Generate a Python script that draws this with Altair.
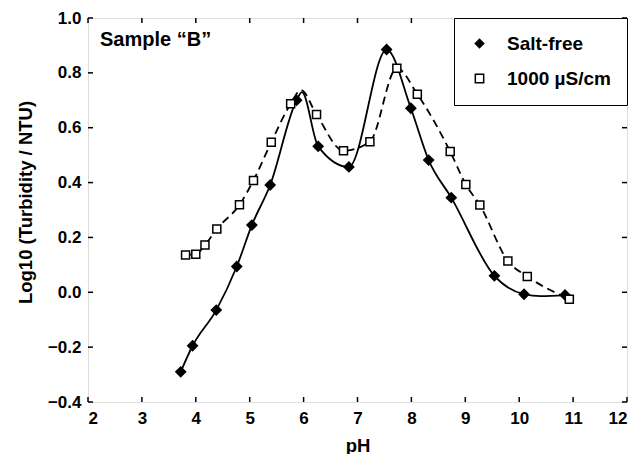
import altair as alt
import pandas as pd

# ---- data ----
series_names = ["Salt-free", "1000 µS/cm"]

sf_ph = [3.72, 3.94, 4.38, 4.76, 5.04, 5.38, 5.87, 6.27, 6.84, 7.54, 7.99, 8.32, 8.74, 9.54, 10.09, 10.85]
sf_val = [-0.290, -0.195, -0.065, 0.094, 0.245, 0.391, 0.700, 0.532, 0.457, 0.885, 0.671, 0.482, 0.345, 0.060, -0.007, -0.010]

hs_ph = [3.81, 4.00, 4.17, 4.39, 4.81, 5.07, 5.40, 5.76, 6.24, 6.74, 7.23, 7.73, 8.11, 8.72, 9.01, 9.27, 9.79, 10.15, 10.93]
hs_val = [0.136, 0.139, 0.172, 0.231, 0.319, 0.408, 0.547, 0.687, 0.648, 0.516, 0.549, 0.817, 0.722, 0.513, 0.393, 0.318, 0.114, 0.058, -0.025]

# fitted curves (knots)
sf_curve_ph = [3.72, 3.94, 4.38, 4.76, 5.04, 5.38, 5.87, 5.97, 6.27, 6.84, 7.54, 7.99, 8.32, 8.74, 9.54, 10.09, 10.40, 10.85]
sf_curve_val = [-0.290, -0.195, -0.065, 0.094, 0.245, 0.391, 0.700, 0.730, 0.532, 0.457, 0.885, 0.671, 0.482, 0.345, 0.060, -0.007, -0.014, -0.010]

hs_curve_ph = [3.81, 4.00, 4.17, 4.39, 4.81, 5.07, 5.40, 5.76, 5.95, 6.24, 6.74, 7.23, 7.73, 8.11, 8.72, 9.01, 9.27, 9.79, 10.15, 10.93]
hs_curve_val = [0.136, 0.139, 0.172, 0.231, 0.319, 0.408, 0.547, 0.687, 0.737, 0.648, 0.516, 0.549, 0.817, 0.722, 0.513, 0.393, 0.318, 0.114, 0.058, -0.025]

x_ticks = [2, 3, 4, 5, 6, 7, 8, 9, 10, 11, 12]
y_ticks = [-0.4, -0.2, 0.0, 0.2, 0.4, 0.6, 0.8, 1.0]

sample_label = "Sample “B”"
x_title = "pH"
y_title = "Log10 (Turbidity / NTU)"

# ---- tables ----
pts = pd.concat([
    pd.DataFrame({"pH": sf_ph, "val": sf_val, "series": series_names[0]}),
    pd.DataFrame({"pH": hs_ph, "val": hs_val, "series": series_names[1]}),
])
sf_curve = pd.DataFrame({"pH": sf_curve_ph, "val": sf_curve_val})
hs_curve = pd.DataFrame({"pH": hs_curve_ph, "val": hs_curve_val})
xt = pd.DataFrame({"pH": x_ticks})
yt = pd.DataFrame({"val": y_ticks})

W, H = 539, 384
FONT = "Liberation Sans"
TL = 5

xscale = alt.Scale(domain=[2, 12], nice=False, zero=False)
yscale = alt.Scale(domain=[-0.4, 1.0], nice=False, zero=False)

xaxis = alt.Axis(values=x_ticks, format="d", title=x_title, grid=False, ticks=False, domain=False,
                 labelFont=FONT, labelFontSize=17, labelFontWeight="bold", labelPadding=8, labelColor="black",
                 titleFont=FONT, titleFontSize=18.5, titleFontWeight="bold", titleColor="black",
                 titleY=49, titleBaseline="alphabetic")
yaxis = alt.Axis(values=y_ticks, format=".1f", title=y_title, grid=False, ticks=False, domain=False,
                 labelFont=FONT, labelFontSize=17, labelFontWeight="bold", labelPadding=7, labelColor="black",
                 titleFont=FONT, titleFontSize=18.5, titleFontWeight="bold", titleColor="black",
                 titleX=-63, titleY=H / 2 - 8, titleBaseline="middle", titleAngle=-90)

sf_line = alt.Chart(sf_curve).mark_line(interpolate="monotone", color="black", strokeWidth=1.8).encode(
    x=alt.X("pH:Q", scale=xscale, axis=xaxis),
    y=alt.Y("val:Q", scale=yscale, axis=yaxis),
)
hs_line = alt.Chart(hs_curve).mark_line(interpolate="monotone", color="black", strokeWidth=1.8,
                                        strokeDash=[8, 5]).encode(
    x=alt.X("pH:Q", scale=xscale),
    y=alt.Y("val:Q", scale=yscale),
)

legend = alt.Legend(title=None, orient="top-right", offset=0, fillColor="white",
                    strokeColor="black", padding=16, rowPadding=15,
                    labelFont=FONT, labelFontSize=19, labelFontWeight="bold", labelColor="black",
                    labelOffset=18, symbolSize=70, symbolStrokeColor="black", symbolStrokeWidth=1.5)

points = alt.Chart(pts).mark_point(filled=True, strokeWidth=1.5, opacity=1).encode(
    x=alt.X("pH:Q", scale=xscale),
    y=alt.Y("val:Q", scale=yscale),
    shape=alt.Shape("series:N", scale=alt.Scale(domain=series_names, range=["diamond", "square"]),
                    legend=legend),
    fill=alt.Fill("series:N", scale=alt.Scale(domain=series_names, range=["black", "white"]),
                  legend=legend),
    stroke=alt.Stroke("series:N", scale=alt.Scale(domain=series_names, range=["black", "black"]),
                      legend=legend),
    size=alt.condition(alt.datum.series == series_names[0], alt.value(95), alt.value(64)),
)

tick_style = dict(color="black", strokeWidth=1.5)
bottom_ticks = alt.Chart(xt).mark_rule(**tick_style).encode(
    x=alt.X("pH:Q", scale=xscale), y=alt.value(H), y2=alt.value(H - TL))
top_ticks = alt.Chart(xt).mark_rule(**tick_style).encode(
    x=alt.X("pH:Q", scale=xscale), y=alt.value(0), y2=alt.value(TL))
left_ticks = alt.Chart(yt).mark_rule(**tick_style).encode(
    y=alt.Y("val:Q", scale=yscale), x=alt.value(0), x2=alt.value(TL))
right_ticks = alt.Chart(yt).mark_rule(**tick_style).encode(
    y=alt.Y("val:Q", scale=yscale), x=alt.value(W), x2=alt.value(W - TL))

label = alt.Chart(pd.DataFrame({"t": [sample_label]})).mark_text(
    font=FONT, fontSize=20, fontWeight="bold", align="left", baseline="alphabetic", color="black"
).encode(text="t:N", x=alt.value(12), y=alt.value(28))

chart = alt.layer(
    bottom_ticks, top_ticks, left_ticks, right_ticks, sf_line, hs_line, points, label
).properties(
    width=W, height=H,
    autosize=alt.AutoSizeParams(type="none"),
    padding={"left": 80, "top": 10, "right": 6, "bottom": 52},
).configure_view(stroke="black", strokeWidth=2).configure_legend(strokeWidth=1.6).configure(background="white")

chart.save("out.html", embed_options={"renderer": "svg", "actions": False})
